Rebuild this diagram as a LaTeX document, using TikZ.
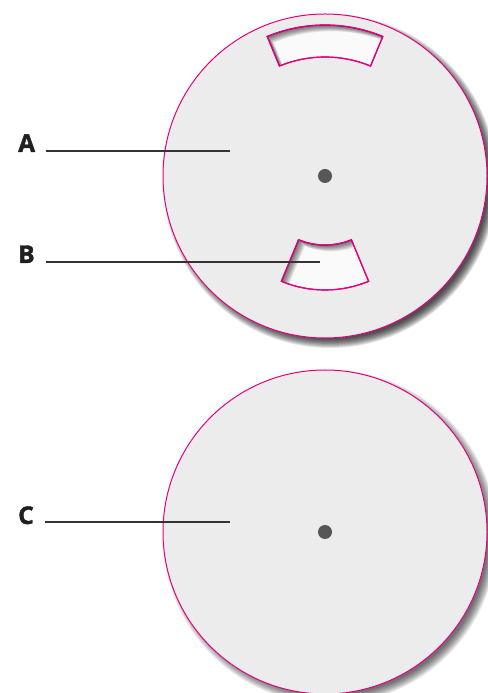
\documentclass[tikz,border=0pt]{standalone}
\usepackage{fontspec}
\setmainfont{Open Sans}
\newfontfamily\lblfont[FakeBold=1.6]{Open Sans Bold}
\usepackage{xcolor}
\usetikzlibrary{positioning}

\definecolor{rim}{HTML}{E5007D}
\definecolor{disc}{HTML}{ECECEC}
\definecolor{hub}{HTML}{575757}
\definecolor{ink}{HTML}{333333}

\begin{document}
\begin{tikzpicture}[
  x=1pt, y=1pt,
  % Disc body and outline
  discbody/.style={fill=disc, draw=rim, line width=1pt},
  % Window cut into the disc
  winbody/.style={fill=white!98!black, draw=rim, line width=1.2pt},
  % Centre hole
  hubdot/.style={circle, fill=hub, inner sep=0pt, minimum size=14pt},
  % Letter labels
  lbl/.style={font=\lblfont\fontsize{24.5}{24.5}\selectfont, text=black!88, inner sep=0pt, anchor=base west},
  % Leader lines
  leader/.style={draw=ink, line width=1.3pt},
  % Window outlines (relative to disc centre 325,517)
  topwin/.style={insert path={([shift={(67.5:151)}]325,517) arc[start angle=67.5, end angle=112.5, radius=151]
      -- ([shift={(112.5:119)}]325,517) arc[start angle=112.5, end angle=67.5, radius=119] -- cycle}},
  botwin/.style={insert path={([shift={(247.5:69)}]325,517) arc[start angle=247.5, end angle=292.5, radius=69]
      -- ([shift={(292.5:114)}]325,517) arc[start angle=292.5, end angle=247.5, radius=114] -- cycle}}
]
\useasboundingbox (0,0) rectangle (487,693);

%% Disc centres
\coordinate (ctop) at (325,517);
\coordinate (cbot) at (325,161);

%% Soft drop shadows
\foreach \c/\op in {ctop/0.11,cbot/0.08}{
  \foreach \i in {0,...,9}
    \fill[black, opacity=\op] ([shift={(5,-5)}]\c) circle[radius=167-\i];
}

%% Discs
\path[discbody] (ctop) circle[radius=162];
\path[discbody] (cbot) circle[radius=162];

%% Windows in the upper disc, with inner shadow
\foreach \w in {topwin,botwin}{
  \path[winbody, \w];
  \begin{scope}
    \clip[\w];
    \foreach \s in {1,...,9}
      \fill[black, opacity=0.08, even odd rule, shift={(\s*0.7,-\s*0.7)}] (-100,-100) rectangle (700,900) [\w];
  \end{scope}
  \path[draw=rim, line width=1.2pt, \w];
}

%% Centre holes
\node[hubdot] (hubtop) at (ctop) {};
\node[hubdot] (hubbot) at (cbot) {};

%% Labels and leader lines
\node[lbl] (labA) at (18,541) {A};
\node[lbl] (labB) at (18,430) {B};
\node[lbl] (labC) at (18,169) {C};

\coordinate (tipA) at (230,542);
\coordinate (tipB) at (320,431);
\coordinate (tipC) at (230,171);

\draw[leader] (labA.east |- tipA) ++(11,0) -- (tipA);
\draw[leader] (labB.east |- tipB) ++(11,0) -- (tipB);
\draw[leader] (labC.east |- tipC) ++(11,0) -- (tipC);

\end{tikzpicture}
\end{document}
